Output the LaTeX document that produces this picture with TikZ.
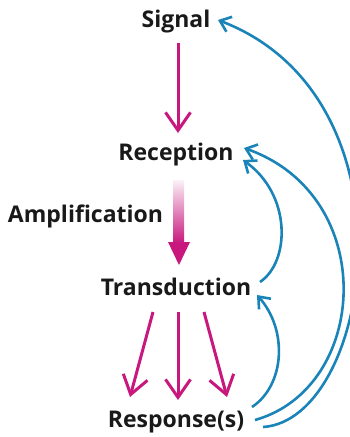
\documentclass[tikz,border=0pt]{standalone}
\usepackage{fontspec}
\setmainfont{Open Sans}
\usetikzlibrary{arrows.meta}
\definecolor{pk}{HTML}{C8187E}
\definecolor{bl}{HTML}{1A84B8}
\tikzset{
  lbl/.style={font=\fontsize{23}{27}\selectfont\bfseries, text=black!90, inner sep=0pt, anchor=base},
  pkarrow/.style={draw=pk, line width=3pt, -{Straight Barb[length=18pt, width=25pt, line width=3pt]}},
  blarrow/.style={draw=bl, line width=2.6pt, -{Straight Barb[length=10pt, width=16pt, line width=2.6pt]}}
}
\begin{document}
\begin{tikzpicture}[x=1pt, y=-1pt]
\useasboundingbox (0,0) rectangle (349,437);
\node[lbl] (sig) at (176,27) {Signal};
\node[lbl] (rec) at (176,160.5) {Reception};
\node[lbl] (amp) at (85.5,222.7) {Amplification};
\node[lbl] (trans) at (176,295.7) {Transduction};
\node[lbl] (resp) at (176,427.7) {Response(s)};
% signal -> reception
\draw[pkarrow] ([xshift=2pt,yshift=-16pt]sig.base) -- ([xshift=2pt,yshift=27.5pt]rec.base);
% amplification arrow
\shade[top color=pk!6, bottom color=pk] ([xshift=-3pt,yshift=-19.5pt]rec.base) rectangle ([xshift=8pt,yshift=52.7pt]trans.base);
\fill[pk] ([xshift=-8pt,yshift=53.7pt]trans.base) -- ([xshift=14pt,yshift=53.7pt]trans.base) -- ([xshift=3pt,yshift=30.7pt]trans.base) -- cycle;
% transduction -> responses
\draw[pkarrow] ([xshift=-23pt,yshift=-16.3pt]trans.base) -- ([xshift=-46pt,yshift=30.7pt]resp.base);
\draw[pkarrow] ([xshift=2pt,yshift=-16.3pt]trans.base) -- ([xshift=2pt,yshift=27.7pt]resp.base);
\draw[pkarrow] ([xshift=28pt,yshift=-16.3pt]trans.base) -- ([xshift=51pt,yshift=30.7pt]resp.base);
% feedback
\draw[blarrow] ([xshift=76pt,yshift=20.7pt]resp.base) .. controls (285,385) and (288,330) .. ([xshift=81pt,yshift=0.7pt]trans.base);
\draw[blarrow] ([xshift=84pt,yshift=13.7pt]trans.base) .. controls (290,262) and (292,195) .. ([xshift=67pt,yshift=0.5pt]rec.base);
\draw[blarrow] ([xshift=79pt,yshift=7.7pt]resp.base) .. controls (369,388) and (380,196) .. ([xshift=68pt,yshift=12.5pt]rec.base);
\draw[blarrow] ([xshift=87pt,yshift=0.7pt]resp.base) .. controls (372,420) and (422,98) .. ([xshift=42pt,yshift=7pt]sig.base);
\end{tikzpicture}
\end{document}
